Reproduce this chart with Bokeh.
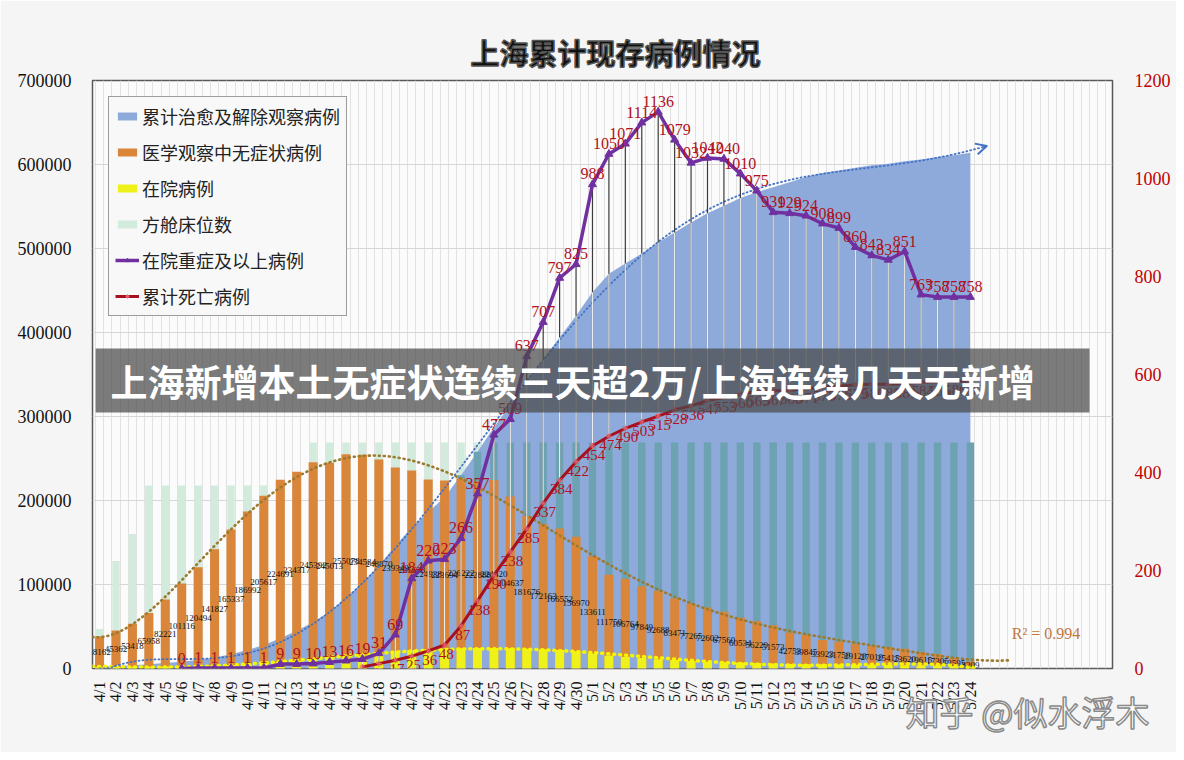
import numpy as np
from bokeh.plotting import figure
from bokeh.models import (Range1d, LinearAxis, FixedTicker, Legend, LegendItem, Label,
                          BoxAnnotation, Arrow, OpenHead, BasicTickFormatter)
from bokeh.core.properties import value
from bokeh.embed import file_html
from bokeh.resources import INLINE

# ---------------- data ----------------
dates = ["4/1", "4/2", "4/3", "4/4", "4/5", "4/6", "4/7", "4/8", "4/9", "4/10",
         "4/11", "4/12", "4/13", "4/14", "4/15", "4/16", "4/17", "4/18", "4/19", "4/20",
         "4/21", "4/22", "4/23", "4/24", "4/25", "4/26", "4/27", "4/28", "4/29", "4/30",
         "5/1", "5/2", "5/3", "5/4", "5/5", "5/6", "5/7", "5/8", "5/9", "5/10",
         "5/11", "5/12", "5/13", "5/14", "5/15", "5/16", "5/17", "5/18", "5/19", "5/20",
         "5/21", "5/22", "5/23", "5/24"]

# 累计治愈及解除观察病例 (area, left axis)
cured = [2000, 3000, 4000, 5000, 6500, 8000, 10000, 13000, 17000, 22000,
         28000, 36000, 45000, 55000, 68000, 84000, 102000, 122000, 146000, 168000,
         186000, 204000, 230000, 258000, 287000, 314000, 342000, 368000, 394000, 420000,
         448000, 470000, 482000, 494000, 507000, 519000, 531000, 542000, 551000, 560000,
         567000, 573000, 579000, 585000, 590000, 593000, 596000, 599000, 601000, 604000,
         606000, 609000, 611000, 614000]

# 医学观察中无症状病例 (orange bars, left axis)
asymp = [38162, 45362, 53418, 65958, 82221, 101116, 120494, 141827, 165337, 186992,
         205617, 224691, 234317, 245392, 245013, 255078, 254584, 248870, 239349, 235628,
         224938, 223694, 226222, 222888, 224420, 204637, 181676, 172163, 166552, 156970,
         133611, 111750, 106764, 97849, 92688, 83471, 77265, 72602, 67560, 60534,
         56229, 51573, 42753, 39845, 33923, 31750, 29120, 27010, 25415, 23620,
         19615, 17305, 12595, 8309]

# 在院病例 (yellow bars, left axis)
hospital = [1500, 1800, 2000, 2200, 2500, 2800, 3200, 3600, 4200, 5000,
            6000, 7500, 9000, 10500, 12000, 13500, 15500, 18000, 20500, 22000,
            23000, 23500, 24000, 24500, 24500, 24000, 23500, 23000, 22000, 20500,
            18000, 15500, 14000, 12500, 11000, 10000, 9000, 8000, 7500, 7000,
            6500, 6000, 5500, 5200, 5000, 4800, 4600, 4400, 4200, 4000,
            3800, 3600, 3400, 3200]

# 方舱床位数 (pale green bars, left axis)
fangcang = [47000, 128000, 160000, 218000, 218000, 218000, 218000, 218000, 218000, 218000,
            218000, 218000, 218000, 269000, 269000, 269000, 269000, 269000, 269000, 269000,
            269000, 269000, 269000, 269000, 269000, 269000, 269000, 269000, 269000, 269000,
            269000, 269000, 269000, 269000, 269000, 269000, 269000, 269000, 269000, 269000,
            269000, 269000, 269000, 269000, 269000, 269000, 269000, 269000, 269000, 269000,
            269000, 269000, 269000, 269000]

# 在院重症及以上病例 (purple line, right axis)
severe = [None, None, None, None, None, 0, 1, 1, 1, 1,
          1, 9, 9, 10, 13, 16, 19, 31, 69, 184,
          220, 223, 266, 357, 477, 509, 637, 707, 797, 825,
          988, 1050, 1071, 1114, 1136, 1079, 1032, 1042, 1040, 1010,
          975, 931, 929, 924, 908, 899, 860, 843, 834, 851,
          763, 758, 758, 758]

# 累计死亡病例 (red line, right axis)
deaths = [None, None, None, None, None, None, None, None, None, None,
          None, None, None, None, None, None, 3, 10, 17, 25,
          36, 48, 87, 138, 190, 238, 285, 337, 384, 422,
          454, 474, 490, 503, 515, 528, 536, 547, 553, 560,
          565, 567, 568, 571, 575, 576, 579, 580, 580, 581,
          584, 585, 586, 586]

left_ticks = [0, 100000, 200000, 300000, 400000, 500000, 600000, 700000]
right_ticks = [0, 200, 400, 600, 800, 1000, 1200]
r_squared = 0.994
r_squared_text = "R² = 0.994"

# ---------------- helpers ----------------
def arr(v):
    return np.array([np.nan if a is None else a for a in v], dtype=float)

n = len(dates)
xi = np.arange(n, dtype=float)
cured_a, asymp_a, hosp_a, fang_a = arr(cured), arr(asymp), arr(hospital), arr(fangcang)
sev_a, dth_a = arr(severe), arr(deaths)
LMAX, RMAX = left_ticks[-1], right_ticks[-1]

SERIF = "Liberation Serif"
CJK = "Noto Sans CJK SC"

p = figure(width=1176, height=752, x_range=Range1d(-0.43, 61.65), y_range=Range1d(0, LMAX),
           output_backend="svg", toolbar_location=None,
           min_border_left=92, min_border_right=64, min_border_top=80, min_border_bottom=84,
           title="上海累计现存病例情况")
p.extra_y_ranges = {"right": Range1d(0, RMAX)}
p.background_fill_color = "#fbfbfb"
p.border_fill_color = "#f5f5f5"
p.outline_line_color = "#595959"
p.outline_line_width = 1.5

p.title.text_font = CJK
p.title.text_font_size = "29px"
p.title.text_font_style = "bold"
p.title.text_color = "#111111"
p.title.text_outline_color = "#555555"
p.title.align = "left"
p.title.offset = 378
p.title.standoff = 16

# axes
ya = p.yaxis[0]
ya.ticker = FixedTicker(ticks=left_ticks)
ya.formatter = BasicTickFormatter(use_scientific=False)
ya.major_label_text_font = SERIF
ya.major_label_text_font_size = "18px"
ya.major_label_text_color = "#111111"
ya.axis_line_color = None
ya.major_tick_line_color = None
ya.minor_tick_line_color = None
ya.major_label_standoff = 15

ra = LinearAxis(y_range_name="right", ticker=FixedTicker(ticks=right_ticks))
ra.major_label_text_font = SERIF
ra.major_label_text_font_size = "18px"
ra.major_label_text_color = "#C00000"
ra.axis_line_color = None
ra.major_tick_line_color = None
ra.minor_tick_line_color = None
ra.major_label_standoff = 16
p.add_layout(ra, "right")

xa = p.xaxis[0]
xa.ticker = FixedTicker(ticks=list(range(n)))
xa.major_label_overrides = {i: d for i, d in enumerate(dates)}
xa.major_label_orientation = np.pi / 2
xa.major_label_text_font = SERIF
xa.major_label_text_font_size = "16px"
xa.major_label_text_color = "#111111"
xa.axis_line_color = None
xa.major_tick_line_color = None
xa.minor_tick_line_color = None
xa.major_label_standoff = 7
# watermark (text of the source picture), carried by the x axis label
xa.axis_label = "\u3000" * 25 + "知乎 @似水浮木"
xa.axis_label_text_font = CJK
xa.axis_label_text_font_size = "34px"
xa.axis_label_text_font_style = "normal"
xa.axis_label_text_color = "#ffffff"
xa.axis_label_text_outline_color = "#8a8a8a"
xa.axis_label_standoff = -26

p.ygrid.ticker = FixedTicker(ticks=left_ticks)
p.ygrid.grid_line_color = "#d6d6d6"
p.xgrid.ticker = FixedTicker(ticks=list(np.arange(-0.25, 61.6, 0.5)))
p.xgrid.grid_line_color = "#e2e2e2"

# ---------------- glyphs ----------------
r_green = p.vbar(x=xi, top=fang_a, width=0.45, fill_color="#D3EBDC", line_color=None)
r_blue = p.varea(x=xi, y1=0, y2=cured_a, fill_color="#8EAADB")
p.vbar(x=xi, top=np.minimum(fang_a, cured_a), width=0.45, fill_color="#6DA2B2", line_color=None)
r_orange = p.vbar(x=xi, top=asymp_a, width=0.55, fill_color="#D9863A", line_color=None)
r_yellow = p.vbar(x=xi, top=hosp_a, width=0.55, fill_color="#EEF21A", line_color=None)

# value labels of orange bars (centered)
p.text(x=xi, y=asymp_a / 2, text=[str(v) for v in asymp], text_font=value(SERIF),
       text_font_size=value("9px"), text_color="#111111", text_align="center",
       text_baseline="middle")

# trend lines (polynomial fits of the data, as in the original)
def r2(vals, deg):
    c = np.polyfit(xi, vals, deg)
    res = vals - np.polyval(c, xi)
    return 1 - np.sum(res ** 2) / np.sum((vals - vals.mean()) ** 2)

def fit(vals, deg, x0, x1, num=500):
    c = np.polyfit(xi, vals, deg)
    xs = np.linspace(x0, x1, num)
    return xs, np.polyval(c, xs)

def until_zero(xs, ys, start):
    idx = np.where((xs > start) & (ys < 0))[0]
    end = idx[0] if len(idx) else len(xs)
    return xs[:end], np.maximum(ys[:end], 0)

# order of the orange trend: the one whose R² matches the printed value
deg_o = min(range(2, 7), key=lambda d: abs(round(r2(asymp_a, d), 3) - r_squared) + 1e-6 * d)
ox, oy = until_zero(*fit(asymp_a, deg_o, -0.43, n + 1.5), 20)
p.line(ox, oy, line_color="#9C7A2E", line_width=2.6, line_dash="1 4", line_cap="round")

yx, yy = until_zero(*fit(hosp_a, 6, -0.43, n + 1.5), 25)
p.line(yx, yy, line_color="#F5F500", line_width=3.5, line_dash="1 5", line_cap="round")

bx, by = fit(cured_a, 6, 0, n)
by = np.maximum(by, 0)
p.line(bx, by, line_color="#4472C4", line_width=1.8, line_dash="1 3", line_cap="round")
p.add_layout(Arrow(end=OpenHead(size=11, line_color="#4472C4", line_width=2),
                   x_start=bx[-3], y_start=by[-3], x_end=bx[-1], y_end=by[-1],
                   line_color="#4472C4", line_width=1.8))

# high-low lines between severe and deaths
m = ~np.isnan(sev_a) & ~np.isnan(dth_a)
fill_r = np.maximum(cured_a, asymp_a) * RMAX / LMAX
p.segment(x0=xi[m], y0=dth_a[m], x1=xi[m], y1=sev_a[m], y_range_name="right",
          line_color="#3c3c3c", line_width=1.2)
p.segment(x0=xi[m], y0=dth_a[m], x1=xi[m], y1=np.minimum(sev_a, fill_r)[m], y_range_name="right",
          line_color="#ffffff", line_width=1.2, line_alpha=0.9)

# deaths line
r_red_l = p.line(xi, dth_a, y_range_name="right", line_color="#A8101E", line_width=3)
r_red_m = p.scatter(xi, dth_a, y_range_name="right", marker="asterisk", size=6,
                    line_color="#E06070", line_width=1)
md = ~np.isnan(dth_a)
p.text(x=xi[md] + 0.1, y=dth_a[md], text=[str(int(v)) for v in dth_a[md]], y_range_name="right",
       text_font=value(SERIF), text_font_size=value("15px"), text_color="#B01020",
       text_align="center", text_baseline="top", y_offset=4)

# severe line
r_pur_l = p.line(xi, sev_a, y_range_name="right", line_color="#7030A0", line_width=3.5)
r_pur_m = p.scatter(xi, sev_a, y_range_name="right", marker="triangle", size=8,
                    fill_color="#7030A0", line_color="#7030A0")
ms = ~np.isnan(sev_a)
p.text(x=xi[ms], y=sev_a[ms], text=[str(int(v)) for v in sev_a[ms]], y_range_name="right",
       text_font=value(SERIF), text_font_size=value("16px"), text_color="#B01020",
       text_align="center", text_baseline="bottom", y_offset=-5)

# R² label of the orange trend line
p.add_layout(Label(x=57.6, y=41700, text=r_squared_text, text_font=SERIF, text_font_size="16px",
                   text_color="#C0783A", text_align="center", text_baseline="middle"))

# ---------------- legend ----------------
legend = Legend(items=[
    LegendItem(label="累计治愈及解除观察病例", renderers=[r_blue]),
    LegendItem(label="医学观察中无症状病例", renderers=[r_orange]),
    LegendItem(label="在院病例", renderers=[r_yellow]),
    LegendItem(label="方舱床位数", renderers=[r_green]),
    LegendItem(label="在院重症及以上病例", renderers=[r_pur_l, r_pur_m]),
    LegendItem(label="累计死亡病例", renderers=[r_red_l, r_red_m]),
], location="top_left", margin=16, padding=6, spacing=10,
    label_height=22, glyph_height=10, glyph_width=24, label_standoff=3,
    label_text_font=CJK, label_text_font_size="18px", label_text_color="#222222",
    border_line_color="#404040", border_line_width=1.5,
    background_fill_color="#f8f8f8", background_fill_alpha=1)
p.add_layout(legend)

# ---------------- overlay banner ----------------
p.add_layout(BoxAnnotation(left=-0.24, right=60.25, bottom=304762, top=380952,
                           fill_color="#4a4a4a", fill_alpha=0.72, line_color=None))
p.add_layout(Label(x=0.67, y=342857, text="上海新增本土无症状连续三天超2万/上海连续几天无新增",
                   text_font=CJK, text_font_size="37px", text_font_style="bold",
                   text_color="#ffffff", text_align="left", text_baseline="middle"))

open("out.html", "w").write(file_html(p, INLINE))
